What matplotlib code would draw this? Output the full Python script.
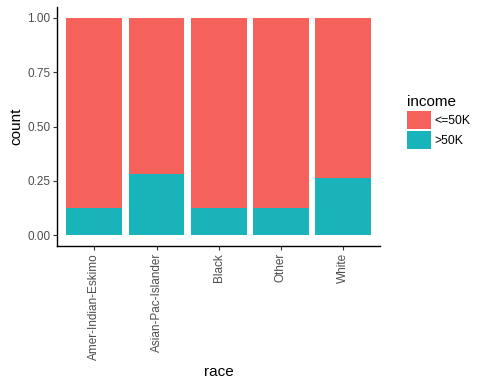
import matplotlib
matplotlib.use("Agg")
import matplotlib.pyplot as plt
from matplotlib.patches import Patch

plt.rcParams["font.family"] = ["Liberation Sans", "DejaVu Sans"]

races = ["Amer-Indian-Eskimo", "Asian-Pac-Islander", "Black", "Other", "White"]
high = [0.125, 0.283, 0.125, 0.125, 0.264]
low = [1 - h for h in high]
yticks = [0.0, 0.25, 0.5, 0.75, 1.0]
ytick_labels = ["0.00", "0.25", "0.50", "0.75", "1.00"]
c_low = "#F5615B"
c_high = "#19B4BA"

fig = plt.figure(figsize=(4.8, 3.84), dpi=100)
ax = fig.add_axes([0.119, 0.359, 0.673, 0.623])
x = list(range(len(races)))
ax.bar(x, high, width=0.9, color=c_high, linewidth=0)
ax.bar(x, low, bottom=high, width=0.9, color=c_low, linewidth=0)
ax.set_xlim(-0.6, 4.6)
ax.set_ylim(-0.05, 1.05)
ax.set_yticks(yticks)
ax.set_yticklabels(ytick_labels)
ax.set_xticks(x)
ax.set_xticklabels(races, rotation=90)
for s in ["top", "right"]:
    ax.spines[s].set_visible(False)
for s in ["left", "bottom"]:
    ax.spines[s].set_linewidth(1.0)
    ax.spines[s].set_color("black")
ax.tick_params(axis="both", direction="out", length=3, width=0.8, color="#333333",
               labelcolor="#4D4D4D", labelsize=8.5, pad=2)
ax.set_xlabel("race", fontsize=11, color="black", labelpad=4)
ax.set_ylabel("count", fontsize=11, color="black", labelpad=2.5)

handles = [Patch(facecolor=c_low, edgecolor="none", label="<=50K"),
           Patch(facecolor=c_high, edgecolor="none", label=">50K")]
leg = fig.legend(handles=handles, title="income", loc="upper left",
                 bbox_to_anchor=(0.838, 0.765), frameon=False, fontsize=8.8,
                 title_fontsize=11, handlelength=1.95, handleheight=1.95,
                 handletextpad=0.3, labelspacing=0.12, borderaxespad=0)
leg._legend_box.align = "left"
fig.savefig("out.png", dpi=100)
